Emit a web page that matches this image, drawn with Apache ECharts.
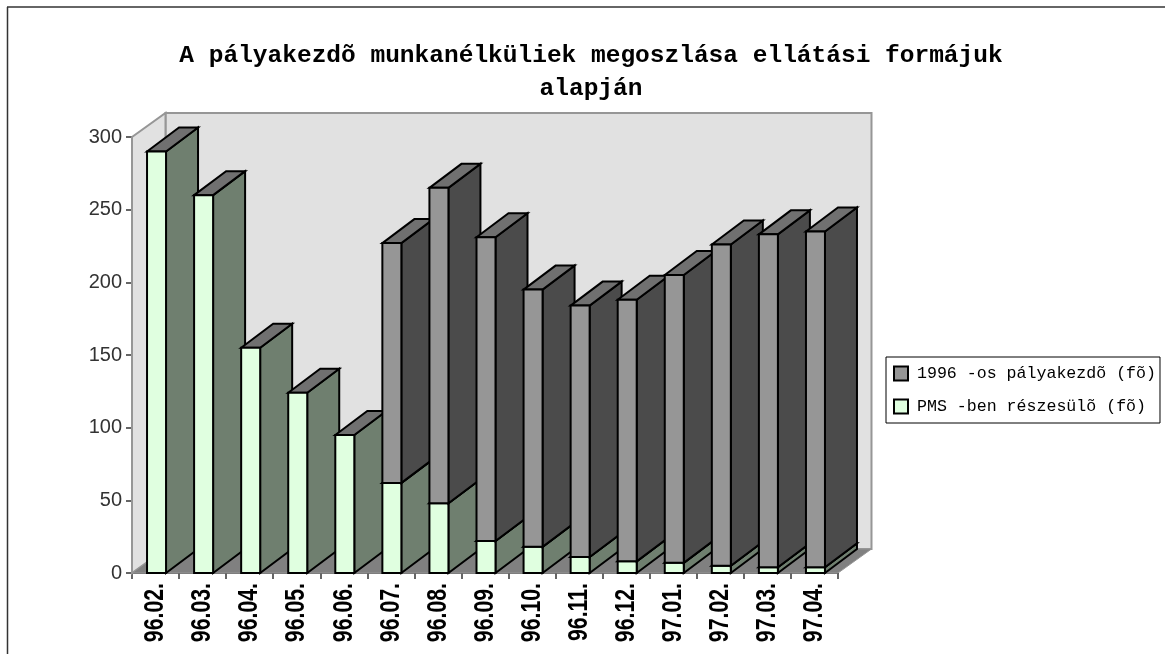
<!DOCTYPE html>
<html>
<head>
<meta charset="utf-8">
<title>chart</title>
<script src="https://cdn.jsdelivr.net/npm/echarts@6/dist/echarts.min.js"></script>
<style>
html, body { margin: 0; padding: 0; background: #fff; }
#main { width: 1165px; height: 654px; }
</style>
</head>
<body>
<div id="main"></div>
<script>
const categories = ['96.02.', '96.03.', '96.04.', '96.05.', '96.06.', '96.07.', '96.08.', '96.09.', '96.10.', '96.11.', '96.12.', '97.01.', '97.02.', '97.03.', '97.04.']
const pmsValues = [290, 260, 155, 124, 95, 62, 48, 22, 18, 11, 8, 7, 5, 4, 4]
const palyakezdoValues = [0, 0, 0, 0, 0, 165, 217, 209, 177, 173, 180, 198, 221, 229, 231]
const yTicks = [0, 50, 100, 150, 200, 250, 300]
const seriesNames = ['1996 -os pályakezdõ (fõ)', 'PMS -ben részesülõ (fõ)']

// depth of the fake 3d box in px
const DX = 33.5
const DY = -24
const BAR_W = 19
const BAR_DX = 32

const edge = { stroke: '#000', lineWidth: 2 }

function renderWalls (params, api) {
  const c = params.coordSys
  const x0 = c.x
  const x1 = c.x + c.width
  const y0 = c.y + c.height
  const y1 = c.y
  const wallLine = { fill: '#e1e1e1', stroke: '#969696', lineWidth: 2 }
  return {
    type: 'group',
    children: [
      // back wall
      { type: 'polygon', shape: { points: [[x0 + DX, y1 + DY], [x1 + DX, y1 + DY], [x1 + DX, y0 + DY], [x0 + DX, y0 + DY]] }, style: wallLine },
      // left wall
      { type: 'polygon', shape: { points: [[x0, y1], [x0 + DX, y1 + DY], [x0 + DX, y0 + DY], [x0, y0]] }, style: wallLine },
      // floor
      { type: 'polygon', shape: { points: [[x0, y0], [x0 + DX, y0 + DY], [x1 + DX, y0 + DY], [x1, y0]] }, style: { fill: '#808080', stroke: '#969696', lineWidth: 1 } }
    ]
  }
}

function makeBar (values, baseValues, frontColor, sideColor, topColor) {
  return function (params, api) {
    const i = api.value(0)
    const base = baseValues ? baseValues[i] : 0
    const val = values[i]
    if (!val) return null
    const center = api.coord([i, 0])[0] + 1
    const yB = api.coord([i, base])[1]
    const yT = api.coord([i, base + val])[1]
    const xL = center - BAR_W / 2
    const xR = center + BAR_W / 2
    return {
      type: 'group',
      children: [
        { type: 'polygon', shape: { points: [[xR, yB], [xR + BAR_DX, yB + DY], [xR + BAR_DX, yT + DY], [xR, yT]] }, style: Object.assign({ fill: sideColor }, edge) },
        { type: 'polygon', shape: { points: [[xL, yT], [xL + BAR_DX, yT + DY], [xR + BAR_DX, yT + DY], [xR, yT]] }, style: Object.assign({ fill: topColor }, edge) },
        { type: 'rect', shape: { x: xL, y: yT, width: BAR_W, height: yB - yT }, style: Object.assign({ fill: frontColor }, edge) }
      ]
    }
  }
}

// squeezed vertical month labels, the axis label can't be narrowed
function renderMonthLabel (params, api) {
  const i = api.value(0)
  const p = api.coord([i, 0])
  return {
    type: 'text',
    x: p[0],
    y: p[1] + 10,
    rotation: Math.PI / 2,
    scaleX: 0.76,
    style: {
      text: categories[i],
      x: 0,
      y: 0,
      align: 'right',
      verticalAlign: 'middle',
      fontFamily: 'Liberation Sans',
      fontWeight: 'bold',
      fontSize: 28,
      fill: '#000'
    }
  }
}

const chart = echarts.init(document.getElementById('main'))
const option = {
  animation: false,
  backgroundColor: '#fff',
  title: {
    text: 'A pályakezdõ munkanélküliek megoszlása ellátási formájuk\nalapján',
    left: 586,
    top: 34,
    textAlign: 'center',
    textStyle: {
      fontFamily: 'Liberation Mono',
      fontWeight: 'bold',
      fontSize: 24.5,
      lineHeight: 33,
      color: '#000'
    }
  },
  legend: {
    left: 886,
    top: 357,
    orient: 'vertical',
    padding: [8, 4, 8, 7],
    itemGap: 16,
    itemWidth: 14,
    itemHeight: 14,
    backgroundColor: '#fff',
    borderColor: '#000',
    borderWidth: 1,
    borderRadius: 0,
    icon: 'rect',
    data: seriesNames,
    textStyle: {
      fontFamily: 'Liberation Mono',
      fontSize: 16.6,
      color: '#000',
      padding: [0, 0, 0, 4]
    }
  },
  grid: { left: 132, right: 327, top: 137, bottom: 81 },
  xAxis: {
    type: 'category',
    data: categories,
    axisLine: { lineStyle: { color: '#333', width: 1.5 } },
    axisTick: { show: true, length: 6, alignWithLabel: false, lineStyle: { color: '#333', width: 1.5 } },
    axisLabel: { show: false }
  },
  yAxis: {
    type: 'value',
    min: yTicks[0],
    max: yTicks[yTicks.length - 1],
    interval: yTicks[1] - yTicks[0],
    splitLine: { show: false },
    axisLine: { show: true, lineStyle: { color: '#444', width: 2 } },
    axisTick: { show: true, length: 6, lineStyle: { color: '#333', width: 1.5 } },
    axisLabel: {
      margin: 10,
      fontFamily: 'Liberation Sans',
      fontSize: 20,
      color: '#333'
    }
  },
  series: [
    {
      type: 'custom',
      silent: true,
      z: 1,
      data: [[0]],
      encode: { x: 0 },
      renderItem: renderWalls
    },
    {
      name: seriesNames[1],
      type: 'custom',
      z: 3,
      itemStyle: { color: '#e0ffe0', borderColor: '#000', borderWidth: 1.5 },
      data: categories.map((c, i) => [i]),
      encode: { x: 0 },
      renderItem: makeBar(pmsValues, null, '#e0ffe0', '#6f7f6f', '#707070')
    },
    {
      name: seriesNames[0],
      type: 'custom',
      z: 4,
      itemStyle: { color: '#969696', borderColor: '#000', borderWidth: 1.5 },
      data: categories.map((c, i) => [i]),
      encode: { x: 0 },
      renderItem: makeBar(palyakezdoValues, pmsValues, '#969696', '#4b4b4b', '#707070')
    },
    {
      type: 'custom',
      silent: true,
      z: 5,
      clip: false,
      data: categories.map((c, i) => [i]),
      encode: { x: 0 },
      renderItem: renderMonthLabel
    }
  ],
  graphic: [
    // outer chart frame, only top and left show in the crop
    { type: 'line', z: 0, shape: { x1: 7, y1: 7, x2: 1165, y2: 7 }, style: { stroke: '#666', lineWidth: 2 } },
    { type: 'line', z: 0, shape: { x1: 7.5, y1: 7, x2: 7.5, y2: 654 }, style: { stroke: '#333', lineWidth: 1.5 } }
  ]
}
chart.setOption(option)
</script>
</body>
</html>
